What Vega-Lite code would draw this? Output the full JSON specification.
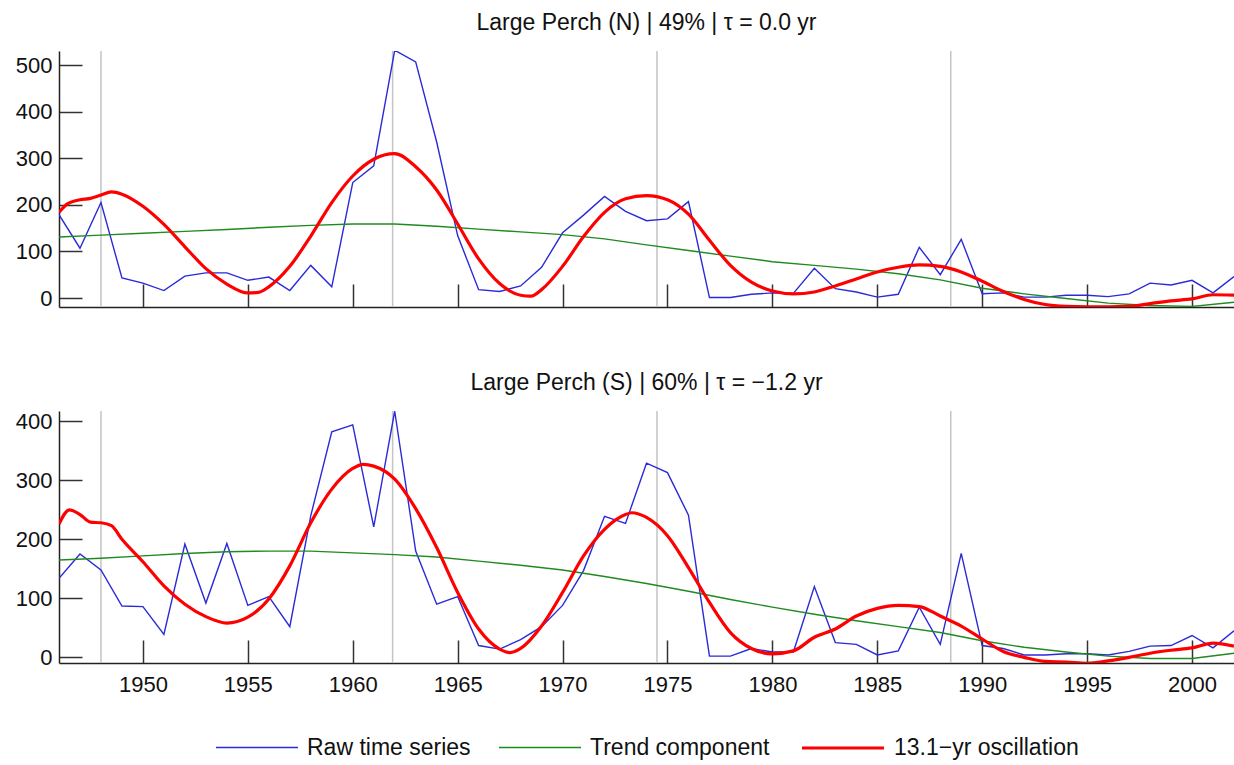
{
  "$schema": "https://vega.github.io/schema/vega-lite/v6.json",
  "background": "white",
  "padding": {"left": 15, "top": 12, "right": 0, "bottom": 0},
  "config": {
    "font": "Liberation Sans",
    "view": {"stroke": null},
    "axis": {
      "grid": false,
      "domainColor": "#222222",
      "domainWidth": 1.5,
      "tickColor": "#333333",
      "tickWidth": 1.5,
      "tickSize": -23,
      "labelFontSize": 22,
      "labelColor": "#111111",
      "labelFont": "Liberation Sans",
      "title": null
    },
    "title": {"fontSize": 23, "fontWeight": "normal", "color": "#111111", "font": "Liberation Sans", "baseline": "alphabetic", "offset": 15},
    "legend": {
      "orient": "none",
      "legendX": 156,
      "legendY": 654,
      "direction": "horizontal",
      "title": null,
      "labelFontSize": 23,
      "labelFont": "Liberation Sans",
      "labelColor": "#111111",
      "labelLimit": 500,
      "symbolType": "stroke",
      "symbolSize": 6724,
      "labelOffset": 8,
      "columnPadding": 25
    }
  },
  "datasets": {
    "events": [{"year": 1948}, {"year": 1961.9}, {"year": 1974.5}, {"year": 1988.5}],
    "north": [
      {"year": 1946, "series": "Raw time series", "value": 179},
      {"year": 1947, "series": "Raw time series", "value": 107},
      {"year": 1948, "series": "Raw time series", "value": 205},
      {"year": 1949, "series": "Raw time series", "value": 43},
      {"year": 1950, "series": "Raw time series", "value": 32},
      {"year": 1951, "series": "Raw time series", "value": 16},
      {"year": 1952, "series": "Raw time series", "value": 47},
      {"year": 1953, "series": "Raw time series", "value": 54},
      {"year": 1954, "series": "Raw time series", "value": 54},
      {"year": 1955, "series": "Raw time series", "value": 38},
      {"year": 1956, "series": "Raw time series", "value": 45},
      {"year": 1957, "series": "Raw time series", "value": 16},
      {"year": 1958, "series": "Raw time series", "value": 70},
      {"year": 1959, "series": "Raw time series", "value": 24},
      {"year": 1960, "series": "Raw time series", "value": 248},
      {"year": 1961, "series": "Raw time series", "value": 284},
      {"year": 1962, "series": "Raw time series", "value": 532},
      {"year": 1963, "series": "Raw time series", "value": 507},
      {"year": 1964, "series": "Raw time series", "value": 335},
      {"year": 1965, "series": "Raw time series", "value": 134},
      {"year": 1966, "series": "Raw time series", "value": 18},
      {"year": 1967, "series": "Raw time series", "value": 14},
      {"year": 1968, "series": "Raw time series", "value": 26},
      {"year": 1969, "series": "Raw time series", "value": 66},
      {"year": 1970, "series": "Raw time series", "value": 140},
      {"year": 1971, "series": "Raw time series", "value": 178},
      {"year": 1972, "series": "Raw time series", "value": 218},
      {"year": 1973, "series": "Raw time series", "value": 186},
      {"year": 1974, "series": "Raw time series", "value": 166},
      {"year": 1975, "series": "Raw time series", "value": 170},
      {"year": 1976, "series": "Raw time series", "value": 207},
      {"year": 1977, "series": "Raw time series", "value": 1},
      {"year": 1978, "series": "Raw time series", "value": 1},
      {"year": 1979, "series": "Raw time series", "value": 8},
      {"year": 1980, "series": "Raw time series", "value": 11},
      {"year": 1981, "series": "Raw time series", "value": 10},
      {"year": 1982, "series": "Raw time series", "value": 64},
      {"year": 1983, "series": "Raw time series", "value": 20},
      {"year": 1984, "series": "Raw time series", "value": 13},
      {"year": 1985, "series": "Raw time series", "value": 2},
      {"year": 1986, "series": "Raw time series", "value": 8},
      {"year": 1987, "series": "Raw time series", "value": 109},
      {"year": 1988, "series": "Raw time series", "value": 50},
      {"year": 1989, "series": "Raw time series", "value": 126},
      {"year": 1990, "series": "Raw time series", "value": 9},
      {"year": 1991, "series": "Raw time series", "value": 11},
      {"year": 1992, "series": "Raw time series", "value": 2},
      {"year": 1993, "series": "Raw time series", "value": 2},
      {"year": 1994, "series": "Raw time series", "value": 6},
      {"year": 1995, "series": "Raw time series", "value": 6},
      {"year": 1996, "series": "Raw time series", "value": 3},
      {"year": 1997, "series": "Raw time series", "value": 9},
      {"year": 1998, "series": "Raw time series", "value": 32},
      {"year": 1999, "series": "Raw time series", "value": 28},
      {"year": 2000, "series": "Raw time series", "value": 38},
      {"year": 2001, "series": "Raw time series", "value": 11},
      {"year": 2002, "series": "Raw time series", "value": 46},
      {"year": 1946, "series": "Trend component", "value": 131},
      {"year": 1948, "series": "Trend component", "value": 135},
      {"year": 1950, "series": "Trend component", "value": 139},
      {"year": 1952, "series": "Trend component", "value": 143},
      {"year": 1954, "series": "Trend component", "value": 147},
      {"year": 1956, "series": "Trend component", "value": 152},
      {"year": 1958, "series": "Trend component", "value": 156},
      {"year": 1960, "series": "Trend component", "value": 159},
      {"year": 1962, "series": "Trend component", "value": 159},
      {"year": 1964, "series": "Trend component", "value": 154},
      {"year": 1966, "series": "Trend component", "value": 148},
      {"year": 1968, "series": "Trend component", "value": 142},
      {"year": 1970, "series": "Trend component", "value": 136},
      {"year": 1972, "series": "Trend component", "value": 127},
      {"year": 1974, "series": "Trend component", "value": 114},
      {"year": 1976, "series": "Trend component", "value": 102},
      {"year": 1978, "series": "Trend component", "value": 90},
      {"year": 1980, "series": "Trend component", "value": 78},
      {"year": 1982, "series": "Trend component", "value": 70},
      {"year": 1984, "series": "Trend component", "value": 62},
      {"year": 1986, "series": "Trend component", "value": 52},
      {"year": 1988, "series": "Trend component", "value": 39},
      {"year": 1990, "series": "Trend component", "value": 21},
      {"year": 1992, "series": "Trend component", "value": 9},
      {"year": 1994, "series": "Trend component", "value": -1},
      {"year": 1996, "series": "Trend component", "value": -11},
      {"year": 1998, "series": "Trend component", "value": -16},
      {"year": 2000, "series": "Trend component", "value": -18},
      {"year": 2002, "series": "Trend component", "value": -9},
      {"year": 1946, "series": "13.1−yr oscillation", "value": 184},
      {"year": 1946.4, "series": "13.1−yr oscillation", "value": 202},
      {"year": 1947, "series": "13.1−yr oscillation", "value": 211},
      {"year": 1947.5, "series": "13.1−yr oscillation", "value": 214},
      {"year": 1948, "series": "13.1−yr oscillation", "value": 221},
      {"year": 1948.5, "series": "13.1−yr oscillation", "value": 228},
      {"year": 1949, "series": "13.1−yr oscillation", "value": 223},
      {"year": 1950, "series": "13.1−yr oscillation", "value": 197},
      {"year": 1951, "series": "13.1−yr oscillation", "value": 158},
      {"year": 1952, "series": "13.1−yr oscillation", "value": 110},
      {"year": 1953, "series": "13.1−yr oscillation", "value": 63},
      {"year": 1954, "series": "13.1−yr oscillation", "value": 30},
      {"year": 1955, "series": "13.1−yr oscillation", "value": 11},
      {"year": 1955.5, "series": "13.1−yr oscillation", "value": 12},
      {"year": 1956, "series": "13.1−yr oscillation", "value": 24},
      {"year": 1957, "series": "13.1−yr oscillation", "value": 68},
      {"year": 1958, "series": "13.1−yr oscillation", "value": 133},
      {"year": 1959, "series": "13.1−yr oscillation", "value": 205},
      {"year": 1960, "series": "13.1−yr oscillation", "value": 262},
      {"year": 1961, "series": "13.1−yr oscillation", "value": 298},
      {"year": 1962, "series": "13.1−yr oscillation", "value": 310},
      {"year": 1963, "series": "13.1−yr oscillation", "value": 282},
      {"year": 1964, "series": "13.1−yr oscillation", "value": 232},
      {"year": 1965, "series": "13.1−yr oscillation", "value": 159},
      {"year": 1966, "series": "13.1−yr oscillation", "value": 84},
      {"year": 1967, "series": "13.1−yr oscillation", "value": 31},
      {"year": 1968, "series": "13.1−yr oscillation", "value": 6},
      {"year": 1968.5, "series": "13.1−yr oscillation", "value": 4},
      {"year": 1969, "series": "13.1−yr oscillation", "value": 18},
      {"year": 1970, "series": "13.1−yr oscillation", "value": 68},
      {"year": 1971, "series": "13.1−yr oscillation", "value": 132},
      {"year": 1972, "series": "13.1−yr oscillation", "value": 184},
      {"year": 1973, "series": "13.1−yr oscillation", "value": 213},
      {"year": 1974, "series": "13.1−yr oscillation", "value": 220},
      {"year": 1975, "series": "13.1−yr oscillation", "value": 211},
      {"year": 1976, "series": "13.1−yr oscillation", "value": 180},
      {"year": 1977, "series": "13.1−yr oscillation", "value": 124},
      {"year": 1978, "series": "13.1−yr oscillation", "value": 70},
      {"year": 1979, "series": "13.1−yr oscillation", "value": 34},
      {"year": 1980, "series": "13.1−yr oscillation", "value": 15},
      {"year": 1981, "series": "13.1−yr oscillation", "value": 9},
      {"year": 1982, "series": "13.1−yr oscillation", "value": 13},
      {"year": 1983, "series": "13.1−yr oscillation", "value": 26},
      {"year": 1984, "series": "13.1−yr oscillation", "value": 41},
      {"year": 1985, "series": "13.1−yr oscillation", "value": 56},
      {"year": 1986, "series": "13.1−yr oscillation", "value": 66},
      {"year": 1987, "series": "13.1−yr oscillation", "value": 71},
      {"year": 1988, "series": "13.1−yr oscillation", "value": 68},
      {"year": 1989, "series": "13.1−yr oscillation", "value": 56},
      {"year": 1990, "series": "13.1−yr oscillation", "value": 36},
      {"year": 1991, "series": "13.1−yr oscillation", "value": 14},
      {"year": 1992, "series": "13.1−yr oscillation", "value": -3},
      {"year": 1993, "series": "13.1−yr oscillation", "value": -14},
      {"year": 1994, "series": "13.1−yr oscillation", "value": -18},
      {"year": 1995, "series": "13.1−yr oscillation", "value": -19},
      {"year": 1996, "series": "13.1−yr oscillation", "value": -19},
      {"year": 1997, "series": "13.1−yr oscillation", "value": -18},
      {"year": 1998, "series": "13.1−yr oscillation", "value": -12},
      {"year": 1999, "series": "13.1−yr oscillation", "value": -6},
      {"year": 2000, "series": "13.1−yr oscillation", "value": -2},
      {"year": 2001, "series": "13.1−yr oscillation", "value": 7},
      {"year": 2002, "series": "13.1−yr oscillation", "value": 6}
    ],
    "south": [
      {"year": 1946, "series": "Raw time series", "value": 134},
      {"year": 1947, "series": "Raw time series", "value": 175},
      {"year": 1948, "series": "Raw time series", "value": 148},
      {"year": 1949, "series": "Raw time series", "value": 87},
      {"year": 1950, "series": "Raw time series", "value": 86},
      {"year": 1951, "series": "Raw time series", "value": 39},
      {"year": 1952, "series": "Raw time series", "value": 192},
      {"year": 1953, "series": "Raw time series", "value": 92},
      {"year": 1954, "series": "Raw time series", "value": 193},
      {"year": 1955, "series": "Raw time series", "value": 88},
      {"year": 1956, "series": "Raw time series", "value": 103},
      {"year": 1957, "series": "Raw time series", "value": 52},
      {"year": 1958, "series": "Raw time series", "value": 240},
      {"year": 1959, "series": "Raw time series", "value": 382},
      {"year": 1960, "series": "Raw time series", "value": 394},
      {"year": 1961, "series": "Raw time series", "value": 221},
      {"year": 1962, "series": "Raw time series", "value": 417},
      {"year": 1963, "series": "Raw time series", "value": 180},
      {"year": 1964, "series": "Raw time series", "value": 90},
      {"year": 1965, "series": "Raw time series", "value": 103},
      {"year": 1966, "series": "Raw time series", "value": 20},
      {"year": 1967, "series": "Raw time series", "value": 14},
      {"year": 1968, "series": "Raw time series", "value": 30},
      {"year": 1969, "series": "Raw time series", "value": 52},
      {"year": 1970, "series": "Raw time series", "value": 88},
      {"year": 1971, "series": "Raw time series", "value": 147},
      {"year": 1972, "series": "Raw time series", "value": 239},
      {"year": 1973, "series": "Raw time series", "value": 227},
      {"year": 1974, "series": "Raw time series", "value": 329},
      {"year": 1975, "series": "Raw time series", "value": 313},
      {"year": 1976, "series": "Raw time series", "value": 241},
      {"year": 1977, "series": "Raw time series", "value": 2},
      {"year": 1978, "series": "Raw time series", "value": 2},
      {"year": 1979, "series": "Raw time series", "value": 15},
      {"year": 1980, "series": "Raw time series", "value": 9},
      {"year": 1981, "series": "Raw time series", "value": 9},
      {"year": 1982, "series": "Raw time series", "value": 120},
      {"year": 1983, "series": "Raw time series", "value": 25},
      {"year": 1984, "series": "Raw time series", "value": 22},
      {"year": 1985, "series": "Raw time series", "value": 4},
      {"year": 1986, "series": "Raw time series", "value": 11},
      {"year": 1987, "series": "Raw time series", "value": 85},
      {"year": 1988, "series": "Raw time series", "value": 22},
      {"year": 1989, "series": "Raw time series", "value": 176},
      {"year": 1990, "series": "Raw time series", "value": 20},
      {"year": 1991, "series": "Raw time series", "value": 15},
      {"year": 1992, "series": "Raw time series", "value": 4},
      {"year": 1993, "series": "Raw time series", "value": 4},
      {"year": 1994, "series": "Raw time series", "value": 6},
      {"year": 1995, "series": "Raw time series", "value": 6},
      {"year": 1996, "series": "Raw time series", "value": 4},
      {"year": 1997, "series": "Raw time series", "value": 10},
      {"year": 1998, "series": "Raw time series", "value": 19},
      {"year": 1999, "series": "Raw time series", "value": 20},
      {"year": 2000, "series": "Raw time series", "value": 37},
      {"year": 2001, "series": "Raw time series", "value": 16},
      {"year": 2002, "series": "Raw time series", "value": 45},
      {"year": 1946, "series": "Trend component", "value": 165},
      {"year": 1948, "series": "Trend component", "value": 168},
      {"year": 1950, "series": "Trend component", "value": 172},
      {"year": 1952, "series": "Trend component", "value": 176},
      {"year": 1954, "series": "Trend component", "value": 179},
      {"year": 1956, "series": "Trend component", "value": 180},
      {"year": 1958, "series": "Trend component", "value": 180},
      {"year": 1960, "series": "Trend component", "value": 177},
      {"year": 1962, "series": "Trend component", "value": 174},
      {"year": 1964, "series": "Trend component", "value": 170},
      {"year": 1966, "series": "Trend component", "value": 163},
      {"year": 1968, "series": "Trend component", "value": 156},
      {"year": 1970, "series": "Trend component", "value": 148},
      {"year": 1972, "series": "Trend component", "value": 137},
      {"year": 1974, "series": "Trend component", "value": 125},
      {"year": 1976, "series": "Trend component", "value": 112},
      {"year": 1978, "series": "Trend component", "value": 98},
      {"year": 1980, "series": "Trend component", "value": 85},
      {"year": 1982, "series": "Trend component", "value": 73},
      {"year": 1984, "series": "Trend component", "value": 62},
      {"year": 1986, "series": "Trend component", "value": 52},
      {"year": 1988, "series": "Trend component", "value": 42},
      {"year": 1990, "series": "Trend component", "value": 28},
      {"year": 1992, "series": "Trend component", "value": 17},
      {"year": 1994, "series": "Trend component", "value": 9},
      {"year": 1996, "series": "Trend component", "value": 2},
      {"year": 1998, "series": "Trend component", "value": -2},
      {"year": 2000, "series": "Trend component", "value": -2},
      {"year": 2002, "series": "Trend component", "value": 7},
      {"year": 1946, "series": "13.1−yr oscillation", "value": 226},
      {"year": 1946.5, "series": "13.1−yr oscillation", "value": 250},
      {"year": 1947, "series": "13.1−yr oscillation", "value": 242},
      {"year": 1947.5, "series": "13.1−yr oscillation", "value": 229},
      {"year": 1948, "series": "13.1−yr oscillation", "value": 228},
      {"year": 1948.5, "series": "13.1−yr oscillation", "value": 223},
      {"year": 1949, "series": "13.1−yr oscillation", "value": 200},
      {"year": 1950, "series": "13.1−yr oscillation", "value": 162},
      {"year": 1951, "series": "13.1−yr oscillation", "value": 121},
      {"year": 1952, "series": "13.1−yr oscillation", "value": 90},
      {"year": 1953, "series": "13.1−yr oscillation", "value": 69},
      {"year": 1954, "series": "13.1−yr oscillation", "value": 58},
      {"year": 1955, "series": "13.1−yr oscillation", "value": 68},
      {"year": 1956, "series": "13.1−yr oscillation", "value": 99},
      {"year": 1957, "series": "13.1−yr oscillation", "value": 155},
      {"year": 1958, "series": "13.1−yr oscillation", "value": 228},
      {"year": 1959, "series": "13.1−yr oscillation", "value": 285},
      {"year": 1960, "series": "13.1−yr oscillation", "value": 320},
      {"year": 1960.5, "series": "13.1−yr oscillation", "value": 327},
      {"year": 1961, "series": "13.1−yr oscillation", "value": 324},
      {"year": 1962, "series": "13.1−yr oscillation", "value": 302},
      {"year": 1963, "series": "13.1−yr oscillation", "value": 252},
      {"year": 1964, "series": "13.1−yr oscillation", "value": 186},
      {"year": 1965, "series": "13.1−yr oscillation", "value": 110},
      {"year": 1966, "series": "13.1−yr oscillation", "value": 48},
      {"year": 1967, "series": "13.1−yr oscillation", "value": 14},
      {"year": 1967.5, "series": "13.1−yr oscillation", "value": 8},
      {"year": 1968, "series": "13.1−yr oscillation", "value": 15},
      {"year": 1969, "series": "13.1−yr oscillation", "value": 53},
      {"year": 1970, "series": "13.1−yr oscillation", "value": 110},
      {"year": 1971, "series": "13.1−yr oscillation", "value": 172},
      {"year": 1972, "series": "13.1−yr oscillation", "value": 217},
      {"year": 1973, "series": "13.1−yr oscillation", "value": 242},
      {"year": 1973.3, "series": "13.1−yr oscillation", "value": 245},
      {"year": 1974, "series": "13.1−yr oscillation", "value": 237},
      {"year": 1975, "series": "13.1−yr oscillation", "value": 206},
      {"year": 1976, "series": "13.1−yr oscillation", "value": 152},
      {"year": 1977, "series": "13.1−yr oscillation", "value": 93},
      {"year": 1978, "series": "13.1−yr oscillation", "value": 42},
      {"year": 1979, "series": "13.1−yr oscillation", "value": 15},
      {"year": 1980, "series": "13.1−yr oscillation", "value": 6},
      {"year": 1981, "series": "13.1−yr oscillation", "value": 11},
      {"year": 1982, "series": "13.1−yr oscillation", "value": 34},
      {"year": 1983, "series": "13.1−yr oscillation", "value": 48},
      {"year": 1984, "series": "13.1−yr oscillation", "value": 70},
      {"year": 1985, "series": "13.1−yr oscillation", "value": 83},
      {"year": 1986, "series": "13.1−yr oscillation", "value": 88},
      {"year": 1987, "series": "13.1−yr oscillation", "value": 86},
      {"year": 1988, "series": "13.1−yr oscillation", "value": 70},
      {"year": 1989, "series": "13.1−yr oscillation", "value": 53},
      {"year": 1990, "series": "13.1−yr oscillation", "value": 31},
      {"year": 1991, "series": "13.1−yr oscillation", "value": 10},
      {"year": 1992, "series": "13.1−yr oscillation", "value": 0},
      {"year": 1993, "series": "13.1−yr oscillation", "value": -7},
      {"year": 1994, "series": "13.1−yr oscillation", "value": -8},
      {"year": 1995, "series": "13.1−yr oscillation", "value": -10},
      {"year": 1996, "series": "13.1−yr oscillation", "value": -6},
      {"year": 1997, "series": "13.1−yr oscillation", "value": 0},
      {"year": 1998, "series": "13.1−yr oscillation", "value": 7},
      {"year": 1999, "series": "13.1−yr oscillation", "value": 12},
      {"year": 2000, "series": "13.1−yr oscillation", "value": 16},
      {"year": 2001, "series": "13.1−yr oscillation", "value": 24},
      {"year": 2002, "series": "13.1−yr oscillation", "value": 19}
    ]
  },
  "spacing": 62,
  "resolve": {"scale": {"color": "shared", "strokeWidth": "shared"}},
  "vconcat": [
    {
      "title": {"text": "Large Perch (N) | 49% | τ = 0.0 yr"},
      "width": 1175,
      "height": 256,
      "layer": [
        {
          "data": {"name": "events"},
          "mark": {"type": "rule", "color": "#c4c4c4", "strokeWidth": 1.5},
          "encoding": {
            "x": {"field": "year", "type": "quantitative", "scale": {"domain": [1946, 2002], "nice": false, "zero": false}, "axis": {"values": [1950, 1955, 1960, 1965, 1970, 1975, 1980, 1985, 1990, 1995, 2000], "labels": false, "format": "d"}}
          }
        },
        {
          "data": {"name": "north"},
          "transform": [{"filter": "datum.series !== '13.1−yr oscillation'"}],
          "mark": {"type": "line", "clip": true, "interpolate": "linear"},
          "encoding": {
            "x": {"field": "year", "type": "quantitative"},
            "y": {"field": "value", "type": "quantitative", "scale": {"domain": [-19.3, 530.4], "nice": false, "zero": false}, "axis": {"values": [0, 100, 200, 300, 400, 500], "labelPadding": 30}},
            "color": {"field": "series", "type": "nominal", "scale": {"domain": ["Raw time series", "Trend component", "13.1−yr oscillation"], "range": ["#2a2ad8", "#1f8a1f", "#ff0000"]}},
            "strokeWidth": {"field": "series", "type": "ordinal", "scale": {"type": "ordinal", "domain": ["Raw time series", "Trend component", "13.1−yr oscillation"], "range": [1.4, 1.4, 3.2]}}
          }
        },
        {
          "data": {"name": "north"},
          "transform": [{"filter": "datum.series === '13.1−yr oscillation'"}],
          "mark": {"type": "line", "clip": true, "interpolate": "monotone", "strokeWidth": 3.2},
          "encoding": {
            "x": {"field": "year", "type": "quantitative"},
            "y": {"field": "value", "type": "quantitative"},
            "color": {"field": "series", "type": "nominal"}
          }
        }
      ]
    },
    {
      "title": {"text": "Large Perch (S) | 60% | τ = −1.2 yr"},
      "width": 1175,
      "height": 252,
      "layer": [
        {
          "data": {"name": "events"},
          "mark": {"type": "rule", "color": "#c4c4c4", "strokeWidth": 1.5},
          "encoding": {
            "x": {"field": "year", "type": "quantitative", "scale": {"domain": [1946, 2002], "nice": false, "zero": false}, "axis": {"values": [1950, 1955, 1960, 1965, 1970, 1975, 1980, 1985, 1990, 1995, 2000], "format": "d", "labelPadding": 34}}
          }
        },
        {
          "data": {"name": "south"},
          "transform": [{"filter": "datum.series !== '13.1−yr oscillation'"}],
          "mark": {"type": "line", "clip": true, "interpolate": "linear"},
          "encoding": {
            "x": {"field": "year", "type": "quantitative"},
            "y": {"field": "value", "type": "quantitative", "scale": {"domain": [-9.6, 417.4], "nice": false, "zero": false}, "axis": {"values": [0, 100, 200, 300, 400], "labelPadding": 30}},
            "color": {"field": "series", "type": "nominal", "scale": {"domain": ["Raw time series", "Trend component", "13.1−yr oscillation"], "range": ["#2a2ad8", "#1f8a1f", "#ff0000"]}},
            "strokeWidth": {"field": "series", "type": "ordinal", "scale": {"type": "ordinal", "domain": ["Raw time series", "Trend component", "13.1−yr oscillation"], "range": [1.4, 1.4, 3.2]}}
          }
        },
        {
          "data": {"name": "south"},
          "transform": [{"filter": "datum.series === '13.1−yr oscillation'"}],
          "mark": {"type": "line", "clip": true, "interpolate": "monotone", "strokeWidth": 3.2},
          "encoding": {
            "x": {"field": "year", "type": "quantitative"},
            "y": {"field": "value", "type": "quantitative"},
            "color": {"field": "series", "type": "nominal"}
          }
        }
      ]
    }
  ]
}
